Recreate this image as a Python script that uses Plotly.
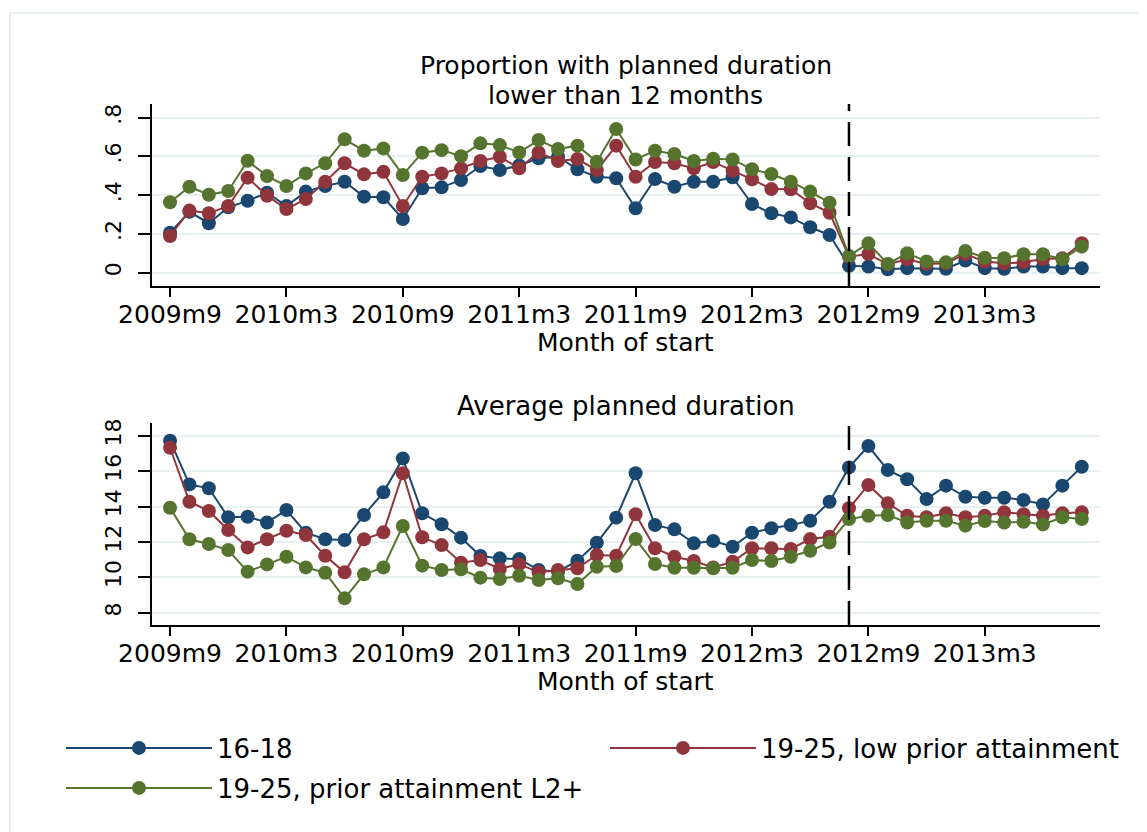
import plotly.graph_objects as go

# ---------------- data ----------------
start_year, start_month, n_months = 2009, 9, 48
months = []
for k in range(n_months):
    m = start_month - 1 + k
    months.append(f"{start_year + m // 12}m{m % 12 + 1}")

tick_labels = ["2009m9", "2010m3", "2010m9", "2011m3", "2011m9", "2012m3", "2012m9", "2013m3"]
policy_month = "2012m8"

series_names = ["16-18", "19-25, low prior attainment", "19-25, prior attainment L2+"]

prop_16_18 = [0.206, 0.314, 0.255, 0.337, 0.371, 0.412, 0.344, 0.418, 0.447, 0.469, 0.392, 0.389,
              0.277, 0.435, 0.440, 0.478, 0.550, 0.529, 0.553, 0.590, 0.598, 0.533, 0.495, 0.487,
              0.332, 0.483, 0.443, 0.469, 0.469, 0.492, 0.354, 0.306, 0.285, 0.234, 0.194, 0.035,
              0.031, 0.017, 0.023, 0.020, 0.020, 0.062, 0.023, 0.020, 0.031, 0.031, 0.023, 0.023]
prop_low = [0.189, 0.320, 0.306, 0.344, 0.490, 0.397, 0.328, 0.380, 0.469, 0.564, 0.507, 0.520,
            0.344, 0.495, 0.512, 0.538, 0.576, 0.598, 0.538, 0.620, 0.576, 0.586, 0.529, 0.655,
            0.495, 0.571, 0.564, 0.538, 0.571, 0.526, 0.481, 0.431, 0.430, 0.358, 0.309, 0.082,
            0.096, 0.043, 0.069, 0.045, 0.048, 0.096, 0.057, 0.048, 0.053, 0.070, 0.074, 0.152]
prop_l2 = [0.363, 0.443, 0.402, 0.421, 0.577, 0.498, 0.447, 0.512, 0.564, 0.688, 0.629, 0.641,
           0.504, 0.619, 0.632, 0.601, 0.667, 0.658, 0.620, 0.684, 0.638, 0.655, 0.572, 0.741,
           0.584, 0.629, 0.612, 0.576, 0.588, 0.584, 0.533, 0.509, 0.469, 0.418, 0.361, 0.086,
           0.151, 0.045, 0.100, 0.058, 0.053, 0.112, 0.077, 0.074, 0.095, 0.095, 0.069, 0.134]

dur_16_18 = [17.72, 15.25, 15.03, 13.39, 13.42, 13.10, 13.80, 12.52, 12.15, 12.11, 13.52, 14.80,
             16.72, 13.62, 13.00, 12.24, 11.20, 11.07, 11.03, 10.41, 10.32, 10.94, 11.95, 13.37,
             15.88, 12.95, 12.71, 11.92, 12.05, 11.73, 12.52, 12.77, 12.95, 13.20, 14.27, 16.21,
             17.42, 16.06, 15.54, 14.42, 15.18, 14.55, 14.50, 14.50, 14.37, 14.12, 15.18, 16.25]
dur_low = [17.32, 14.27, 13.75, 12.67, 11.69, 12.15, 12.63, 12.39, 11.22, 10.28, 12.15, 12.54,
           15.88, 12.26, 11.82, 10.82, 10.98, 10.47, 10.75, 10.28, 10.41, 10.51, 11.26, 11.22,
           13.56, 11.64, 11.16, 10.92, 10.56, 10.88, 11.64, 11.64, 11.60, 12.16, 12.29, 13.90,
           15.22, 14.18, 13.48, 13.39, 13.62, 13.39, 13.48, 13.67, 13.56, 13.48, 13.62, 13.67]
dur_l2 = [13.93, 12.15, 11.88, 11.54, 10.32, 10.73, 11.16, 10.56, 10.26, 8.81, 10.17, 10.56,
          12.90, 10.66, 10.41, 10.45, 9.98, 9.90, 10.09, 9.85, 9.94, 9.62, 10.60, 10.64,
          12.16, 10.75, 10.54, 10.54, 10.51, 10.54, 10.98, 10.92, 11.16, 11.50, 11.97, 13.29,
          13.48, 13.52, 13.10, 13.20, 13.20, 12.92, 13.18, 13.10, 13.14, 12.99, 13.39, 13.29]

prop_ticks = [0, 0.2, 0.4, 0.6, 0.8]
prop_tick_text = ["0", ".2", ".4", ".6", ".8"]
dur_ticks = [8, 10, 12, 14, 16, 18]

# ---------------- style ----------------
W, H = 1147, 832
OFF = 8  # page body margin
FONT = "DejaVu Sans"
FS = 25
colors = ["#1A476F", "#90353B", "#55752F"]
grid_c = "#E8F0F2"

def px_x(p):
    return (p - OFF) / W

def px_y(p):
    return 1 - (p - OFF) / H

fig = go.Figure()

legends = ["legend", "legend2", "legend3"]
for name, col, leg, yt, yb in zip(series_names, colors, legends,
                                  [prop_16_18, prop_low, prop_l2],
                                  [dur_16_18, dur_low, dur_l2]):
    fig.add_trace(go.Scatter(x=months, y=yt, mode="lines+markers", name=name,
                             line=dict(color=col, width=2),
                             marker=dict(color=col, size=14, line=dict(width=0)),
                             xaxis="x", yaxis="y", legend=leg, showlegend=True))
    fig.add_trace(go.Scatter(x=months, y=yb, mode="lines+markers", name=name,
                             line=dict(color=col, width=2),
                             marker=dict(color=col, size=14, line=dict(width=0)),
                             xaxis="x2", yaxis="y2", showlegend=False))

xdom = [px_x(152), px_x(1100)]
xrange = [-0.93, 47.94]
axis_common = dict(showline=True, linecolor="black", linewidth=1.5, ticks="outside",
                   tickcolor="black", tickwidth=1.5, zeroline=False, automargin=False)
xfont = dict(family=FONT, size=FS, color="black")
yfont = dict(family=FONT, size=22, color="black")

fig.update_layout(
    width=W, height=H, margin=dict(l=0, r=0, t=0, b=0, pad=0), autosize=False,
    paper_bgcolor="white", plot_bgcolor="white",
    font=dict(family=FONT, size=FS, color="black"),
    xaxis=dict(domain=xdom, anchor="y", type="category", categoryarray=months,
               range=xrange, tickvals=tick_labels, ticktext=tick_labels, ticklen=9,
               ticklabelstandoff=-4,
               showgrid=False, tickangle=0, tickfont=xfont, **axis_common),
    yaxis=dict(domain=[px_y(286), px_y(104)], anchor="x", range=[-0.069, 0.87],
               tickvals=prop_ticks, ticktext=prop_tick_text, tickangle=-90, ticklen=12,
               ticklabelstandoff=8,
               showgrid=True, gridcolor=grid_c, gridwidth=2, tickfont=yfont, **axis_common),
    xaxis2=dict(domain=xdom, anchor="y2", type="category", categoryarray=months,
                range=xrange, tickvals=tick_labels, ticktext=tick_labels, ticklen=9,
                ticklabelstandoff=-4,
                showgrid=False, tickangle=0, tickfont=xfont, **axis_common),
    yaxis2=dict(domain=[px_y(625), px_y(423)], anchor="x2", range=[7.305, 18.72],
                tickvals=dur_ticks, tickangle=-90, ticklen=12, ticklabelstandoff=8,
                showgrid=True, gridcolor=grid_c, gridwidth=2, tickfont=yfont, **axis_common),
)

leg_common = dict(orientation="h", xanchor="left", yanchor="middle", itemwidth=146,
                  bgcolor="rgba(0,0,0,0)", font=dict(family=FONT, size=26, color="black"))
fig.update_layout(
    legend=dict(x=px_x(61), y=px_y(748), **leg_common),
    legend2=dict(x=px_x(605), y=px_y(748), **leg_common),
    legend3=dict(x=px_x(61), y=px_y(788), **leg_common),
)

# policy change reference line
for xr, yr in [("x", "y domain"), ("x2", "y2 domain")]:
    fig.add_shape(type="line", xref=xr, yref=yr, x0=policy_month, x1=policy_month, y0=0, y1=1,
                  line=dict(color="black", width=2.5, dash="24px,11px"))

# outer frame
fig.add_shape(type="rect", xref="paper", yref="paper", x0=px_x(10), x1=1.05,
              y0=-0.05, y1=px_y(13), line=dict(color=grid_c, width=2), layer="below")

def text(s, x, y, size=FS):
    fig.add_annotation(text=s, x=px_x(x), y=px_y(y), xref="paper", yref="paper",
                       showarrow=False, xanchor="center", yanchor="middle",
                       font=dict(family=FONT, size=size, color="black"))

cx = (152 + 1100) / 2
text("Proportion with planned duration", cx, 66, 25)
text("lower than 12 months", cx, 95, 25)
text("Month of start", cx, 342)
text("Average planned duration", cx, 406, 26)
text("Month of start", cx, 681)

fig.write_html("out.html")
